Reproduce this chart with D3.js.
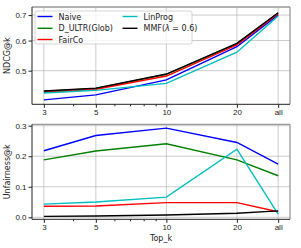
<!DOCTYPE html>
<html>
<head>
<meta charset="utf-8">
<script src="https://cdn.jsdelivr.net/npm/d3@7"></script>
<style>
  body { margin: 0; background: #fff; }
  svg { display: block; font-family: "DejaVu Sans", sans-serif; }
  .tick text { font-size: 8px; fill: #222; }
  .tick line { stroke: #222; }
  .domain { display: none; }
</style>
</head>
<body>
<div id="chart"></div>
<script>
const topK = ["3", "5", "10", "20", "all"];
const kValues = [3, 5, 10, 20, 30];
const minorK = [4, 6, 7, 8, 9];

const names = ["Naive", "D_ULTR(Glob)", "FairCo", "LinProg", "MMF"];
const colors = ["#0000ff", "#008000", "#ff0000", "#00bfbf", "#000000"];

const ndcgNaive = [0.419, 0.432, 0.473, 0.578, 0.701];
const ndcgDultr = [0.441, 0.449, 0.489, 0.589, 0.709];
const ndcgFairCo = [0.439, 0.447, 0.484, 0.584, 0.706];
const ndcgLinProg = [0.437, 0.444, 0.463, 0.559, 0.696];
const ndcgMMF = [0.442, 0.450, 0.490, 0.590, 0.710];

const unfNaive = [0.218, 0.268, 0.292, 0.245, 0.174];
const unfDultr = [0.188, 0.217, 0.241, 0.188, 0.136];
const unfFairCo = [0.036, 0.037, 0.048, 0.048, 0.018];
const unfLinProg = [0.043, 0.050, 0.066, 0.223, 0.010];
const unfMMF = [0.003, 0.004, 0.0075, 0.013, 0.021];

const ndcgTicks = [0.5, 0.6, 0.7];
const unfTicks = [0.0, 0.1, 0.2, 0.3];

const W = 301, H = 248;
const left = 32, right = 290;

const svg = d3.select("#chart").append("svg")
    .attr("width", W)
    .attr("height", H);

const x = d3.scaleLog().domain([2.67, 33.7]).range([left, right]);

function drawPanel(cfg) {
    const { y, top, bottom, series, ticks, label } = cfg;
    const g = svg.append("g");

    // grid
    g.selectAll(".vgrid").data(kValues).enter().append("line")
        .attr("x1", d => x(d)).attr("x2", d => x(d))
        .attr("y1", top).attr("y2", bottom)
        .attr("stroke", "#b0b0b0").attr("stroke-width", 0.8).attr("opacity", 0.8);
    g.selectAll(".hgrid").data(ticks).enter().append("line")
        .attr("x1", left).attr("x2", right)
        .attr("y1", d => y(d)).attr("y2", d => y(d))
        .attr("stroke", "#b0b0b0").attr("stroke-width", 0.8).attr("opacity", 0.8);

    // lines
    const line = d3.line()
        .x((d, i) => x(kValues[i]))
        .y(d => y(d));
    series.forEach((s, i) => {
        g.append("path")
            .datum(s)
            .attr("d", line)
            .attr("fill", "none")
            .attr("stroke", colors[i])
            .attr("stroke-width", 1.4);
    });

    // frame
    g.append("line").attr("x1", left).attr("x2", right).attr("y1", top).attr("y2", top)
        .attr("stroke", "#999").attr("stroke-width", 1.3);
    g.append("line").attr("x1", right).attr("x2", right).attr("y1", top).attr("y2", bottom)
        .attr("stroke", "#999").attr("stroke-width", 1.3);
    g.append("line").attr("x1", left).attr("x2", right).attr("y1", bottom).attr("y2", bottom)
        .attr("stroke", "#222").attr("stroke-width", 1);
    g.append("line").attr("x1", left).attr("x2", left).attr("y1", top).attr("y2", bottom)
        .attr("stroke", "#222").attr("stroke-width", 1);

    // axes
    g.append("g")
        .attr("transform", `translate(0,${bottom})`)
        .call(d3.axisBottom(x).tickValues(kValues)
            .tickFormat((d, i) => topK[i]).tickSize(3.5).tickPadding(2));
    g.append("g")
        .attr("transform", `translate(0,${bottom})`)
        .call(d3.axisBottom(x).tickValues(minorK).tickFormat("").tickSize(2));
    g.append("g")
        .attr("transform", `translate(${left},0)`)
        .call(d3.axisLeft(y).tickValues(ticks).tickFormat(d3.format(".1f"))
            .tickSize(3.5).tickPadding(2));

    g.append("text")
        .attr("transform", `translate(9.5,${(top + bottom) / 2}) rotate(-90)`)
        .attr("text-anchor", "middle")
        .attr("font-size", 8)
        .attr("fill", "#222")
        .text(label);
}

const yTop = d3.scaleLog().domain([0.408, 0.735]).range([104.3, 7]);
drawPanel({
    y: yTop, top: 7, bottom: 104.3,
    series: [ndcgNaive, ndcgDultr, ndcgFairCo, ndcgLinProg, ndcgMMF],
    ticks: ndcgTicks, label: "NDCG@k"
});

const yBot = d3.scaleLinear().domain([-0.0066, 0.3046]).range([219.3, 124.3]);
drawPanel({
    y: yBot, top: 124.3, bottom: 219.3,
    series: [unfNaive, unfDultr, unfFairCo, unfLinProg, unfMMF],
    ticks: unfTicks, label: "Unfairness@k"
});

svg.append("text")
    .attr("x", (left + right) / 2)
    .attr("y", 241)
    .attr("text-anchor", "middle")
    .attr("font-size", 8)
    .attr("fill", "#222")
    .text("Top_k");

// legend
const legend = svg.append("g");
legend.append("rect")
    .attr("x", 35).attr("y", 11).attr("width", 157).attr("height", 33)
    .attr("rx", 2)
    .attr("fill", "#fff").attr("fill-opacity", 0.8)
    .attr("stroke", "#ccc").attr("stroke-width", 0.8);

const legendPos = [
    { x: 37.5, y: 16.5 }, { x: 37.5, y: 28.3 }, { x: 37.5, y: 39.5 },
    { x: 122.5, y: 16.5 }, { x: 122.5, y: 28.3 }
];
names.forEach((n, i) => {
    const p = legendPos[i];
    legend.append("line")
        .attr("x1", p.x).attr("x2", p.x + 15)
        .attr("y1", p.y).attr("y2", p.y)
        .attr("stroke", colors[i]).attr("stroke-width", 1.4);
    const t = legend.append("text")
        .attr("x", p.x + 21).attr("y", p.y + 3)
        .attr("font-size", 8)
        .attr("fill", "#222");
    if (n === "MMF") {
        t.append("tspan").text("MMF(");
        t.append("tspan").attr("font-style", "italic").text("λ");
        t.append("tspan").text(" = 0.6)");
    } else {
        t.text(n);
    }
});
</script>
</body>
</html>
